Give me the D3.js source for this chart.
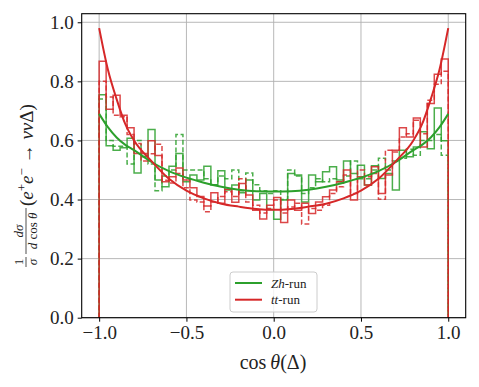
<!doctype html>
<html>
<head>
	<meta charset="utf-8">
	<script src="https://d3js.org/d3.v7.min.js"></script>
	<style>
		body { margin: 0; background: #fff; }
		text { font-family: "Liberation Serif", "DejaVu Serif", serif; fill: #222; }
	</style>
</head>
<body>
	<svg id="chart" width="479" height="387"></svg>
	<script>

		// histogram heights, 50 bins of width 0.04 over [-1, 1]
		var zhSolid = [0.755, 0.582, 0.567, 0.575, 0.607, 0.49, 0.545, 0.637, 0.466, 0.443,
		               0.513, 0.556, 0.46, 0.483, 0.466, 0.513, 0.449, 0.497, 0.432, 0.449,
		               0.423, 0.466, 0.398, 0.42, 0.366, 0.333, 0.398, 0.488, 0.483, 0.392,
		               0.483, 0.46, 0.494, 0.511, 0.466, 0.53, 0.488, 0.516, 0.449, 0.514,
		               0.471, 0.488, 0.432, 0.567, 0.545, 0.578, 0.629, 0.572, 0.71, 0.599];
		var zhDashed = [0.74, 0.6, 0.58, 0.58, 0.52, 0.6, 0.55, 0.52, 0.43, 0.48,
		                0.5, 0.62, 0.5, 0.5, 0.5, 0.47, 0.45, 0.48, 0.47, 0.5,
		                0.43, 0.49, 0.45, 0.43, 0.42, 0.43, 0.4, 0.5, 0.48, 0.42,
		                0.44, 0.47, 0.46, 0.47, 0.46, 0.48, 0.53, 0.47, 0.47, 0.5,
		                0.54, 0.5, 0.53, 0.54, 0.57, 0.55, 0.6, 0.6, 0.62, 0.55];
		var ttSolid = [0.868, 0.706, 0.753, 0.685, 0.643, 0.556, 0.556, 0.599, 0.549, 0.46,
		               0.477, 0.507, 0.466, 0.44, 0.41, 0.378, 0.423, 0.387, 0.435, 0.391,
		               0.454, 0.415, 0.364, 0.334, 0.381, 0.407, 0.322, 0.398, 0.364, 0.387,
		               0.353, 0.392, 0.409, 0.432, 0.46, 0.5, 0.398, 0.477, 0.449, 0.511,
		               0.42, 0.483, 0.567, 0.643, 0.612, 0.676, 0.578, 0.725, 0.824, 0.876];
		var ttDashed = [0.8, 0.747, 0.685, 0.68, 0.62, 0.59, 0.53, 0.555, 0.587, 0.465,
		                0.456, 0.488, 0.44, 0.398, 0.392, 0.359, 0.392, 0.41, 0.426, 0.41,
		                0.47, 0.392, 0.381, 0.354, 0.37, 0.398, 0.354, 0.375, 0.387, 0.317,
		                0.37, 0.364, 0.381, 0.42, 0.443, 0.483, 0.42, 0.5, 0.477, 0.488,
		                0.401, 0.567, 0.561, 0.612, 0.623, 0.668, 0.623, 0.736, 0.79, 0.834];

		// fitted curves
		var fitX = [-1, -0.95, -0.9, -0.85, -0.8, -0.7, -0.6, -0.5, -0.4, -0.3, -0.2, -0.1, 0,
		            0.1, 0.2, 0.3, 0.4, 0.5, 0.6, 0.7, 0.8, 0.85, 0.9, 0.95, 1];
		var zhFit = [0.69, 0.645, 0.61, 0.585, 0.567, 0.527, 0.496, 0.474, 0.457, 0.443, 0.433, 0.428, 0.427,
		             0.428, 0.433, 0.443, 0.457, 0.474, 0.496, 0.527, 0.567, 0.585, 0.61, 0.645, 0.69];
		var ttFit = [0.98, 0.84, 0.74, 0.655, 0.6, 0.53, 0.47, 0.43, 0.404, 0.386, 0.376, 0.368, 0.365,
		             0.368, 0.376, 0.386, 0.404, 0.43, 0.47, 0.53, 0.6, 0.655, 0.74, 0.84, 0.98];

		var xTicks = [-1.0, -0.5, 0.0, 0.5, 1.0];
		var yTicks = [0.0, 0.2, 0.4, 0.6, 0.8, 1.0];

		var green = "#2ca02c", red = "#d62728";
		var margin = {top: 13.7, right: 13.3, bottom: 69.3, left: 81.7};
		var W = 479, H = 387;

		var svg = d3.select("#chart");

		var xScale = d3.scaleLinear().domain([-1.1, 1.1]).range([margin.left, W - margin.right]);
		var yScale = d3.scaleLinear().domain([0, 1.029]).range([H - margin.bottom, margin.top]);

		var plot = svg.append("g");

		// grid
		plot.selectAll(".gx").data(xTicks).enter().append("line")
			.attr("x1", d => xScale(d)).attr("x2", d => xScale(d))
			.attr("y1", margin.top).attr("y2", H - margin.bottom)
			.attr("stroke", "#b0b0b0").attr("stroke-width", 0.9);
		plot.selectAll(".gy").data(yTicks).enter().append("line")
			.attr("y1", d => yScale(d)).attr("y2", d => yScale(d))
			.attr("x1", margin.left).attr("x2", W - margin.right)
			.attr("stroke", "#b0b0b0").attr("stroke-width", 0.9);

		// step histograms
		var edges = d3.range(51).map(i => -1 + i * 0.04);
		function stepPoints(vals) {
			var pts = [[edges[0], 0]];
			vals.forEach((v, i) => pts.push([edges[i], v]));
			pts.push([edges[50], vals[vals.length - 1]]);
			pts.push([edges[50], 0]);
			return pts;
		}
		var stepLine = d3.line()
			.x(d => xScale(d[0])).y(d => yScale(d[1]))
			.curve(d3.curveStepAfter);

		var hists = [
			{vals: zhSolid, color: green, dash: null},
			{vals: zhDashed, color: green, dash: "5,2.5"},
			{vals: ttSolid, color: red, dash: null},
			{vals: ttDashed, color: red, dash: "5,2.5"}
		];
		hists.forEach(h => {
			plot.append("path")
				.attr("d", stepLine(stepPoints(h.vals)))
				.attr("fill", "none")
				.attr("stroke", h.color)
				.attr("stroke-opacity", 0.85)
				.attr("stroke-width", 1.5)
				.attr("stroke-dasharray", h.dash);
		});

		// fit curves
		var fitLine = d3.line()
			.x(d => xScale(d[0])).y(d => yScale(d[1]))
			.curve(d3.curveMonotoneX);
		[[zhFit, green], [ttFit, red]].forEach(f => {
			plot.append("path")
				.attr("d", fitLine(fitX.map((x, i) => [x, f[0][i]])))
				.attr("fill", "none")
				.attr("stroke", f[1])
				.attr("stroke-width", 2);
		});

		// frame
		svg.append("rect")
			.attr("x", margin.left).attr("y", margin.top)
			.attr("width", W - margin.left - margin.right)
			.attr("height", H - margin.top - margin.bottom)
			.attr("fill", "none").attr("stroke", "#000").attr("stroke-width", 1.1);

		// axes
		var xAxis = d3.axisBottom(xScale).tickValues(xTicks).tickSize(4).tickPadding(4)
			.tickFormat(d => d3.format(".1f")(d).replace("-", "\u2212"));
		var yAxis = d3.axisLeft(yScale).tickValues(yTicks).tickSize(4).tickPadding(4)
			.tickFormat(d3.format(".1f"));

		var gx = svg.append("g")
			.attr("transform", "translate(0," + (H - margin.bottom) + ")")
			.call(xAxis);
		var gy = svg.append("g")
			.attr("transform", "translate(" + margin.left + ",0)")
			.call(yAxis);
		[gx, gy].forEach(g => {
			g.attr("font-family", null);
			g.select(".domain").remove();
			g.selectAll("line").attr("stroke", "#000").attr("stroke-width", 1);
			g.selectAll("text").style("font-size", "19px").attr("fill", "#222")
				.style("font-family", '"Liberation Serif", serif');
		});

		// x label
		var xl = svg.append("text")
			.attr("x", 273).attr("y", 369)
			.attr("text-anchor", "middle")
			.style("font-size", "20px");
		xl.append("tspan").text("cos\u2009");
		xl.append("tspan").style("font-style", "italic").text("\u03b8");
		xl.append("tspan").text("(\u0394)");

		// y label
		var yl = svg.append("g").attr("transform", "translate(26,167) rotate(-90)");
		function frac(cx, num, den, size) {
			var n = yl.append("text").attr("x", cx).attr("y", -3).attr("text-anchor", "middle")
				.style("font-size", size + "px");
			num(n);
			var d = yl.append("text").attr("x", cx).attr("y", 11).attr("text-anchor", "middle")
				.style("font-size", size + "px");
			den(d);
		}
		frac(-95, t => t.text("1"), t => t.append("tspan").style("font-style", "italic").text("\u03c3"), 13);
		frac(-64,
			t => { t.append("tspan").style("font-style", "italic").text("d\u03c3"); },
			t => { t.append("tspan").style("font-style", "italic").text("d"); t.append("tspan").text(" cos "); t.append("tspan").style("font-style", "italic").text("\u03b8"); },
			13);
		yl.append("line").attr("x1", -100).attr("x2", -90).attr("y1", 0).attr("y2", 0)
			.attr("stroke", "#222").attr("stroke-width", 0.8);
		yl.append("line").attr("x1", -87).attr("x2", -41).attr("y1", 0).attr("y2", 0)
			.attr("stroke", "#222").attr("stroke-width", 0.8);
		var mt = yl.append("text").attr("x", -39).attr("y", 7).style("font-size", "19px");
		mt.append("tspan").text("(");
		mt.append("tspan").style("font-style", "italic").text("e");
		mt.append("tspan").attr("dy", -7).style("font-size", "13px").text("+");
		mt.append("tspan").attr("dy", 7).style("font-style", "italic").text("e");
		mt.append("tspan").attr("dy", -7).style("font-size", "13px").text("\u2212");
		mt.append("tspan").attr("dy", 7).text(" \u2192 ");
		mt.append("tspan").style("font-style", "italic").text("\u03bd\u03bd");
		mt.append("tspan").text("\u0394)");

		// legend
		var lg = svg.append("g");
		lg.append("rect")
			.attr("x", 230).attr("y", 272).attr("width", 87).attr("height", 40)
			.attr("rx", 3).attr("fill", "#fff").attr("fill-opacity", 0.8)
			.attr("stroke", "#cccccc").attr("stroke-width", 1);
		var legendItems = [
			{a: "Zh", color: green},
			{a: "tt", color: red}
		];
		legendItems.forEach((it, i) => {
			var y = 283 + i * 16.7;
			lg.append("line").attr("x1", 235).attr("x2", 262).attr("y1", y).attr("y2", y)
				.attr("stroke", it.color).attr("stroke-width", 2);
			var t = lg.append("text").attr("x", 271).attr("y", y + 4.5).style("font-size", "13px");
			t.append("tspan").style("font-style", "italic").text(it.a);
			t.append("tspan").text("-run");
		});
	</script>
</body>
</html>
